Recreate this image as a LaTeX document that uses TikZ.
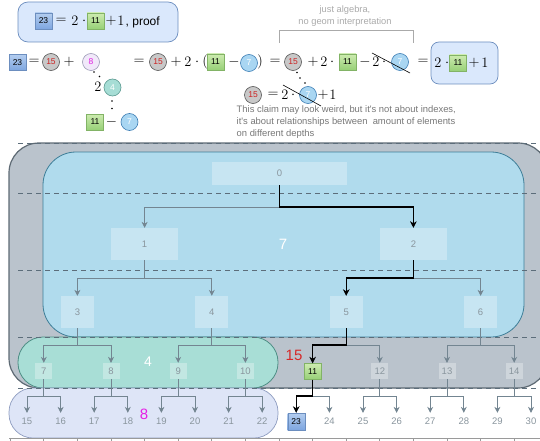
\documentclass[tikz,border=0pt]{standalone}
\usepackage{fontspec}
\newfontfamily\hv{Liberation Sans}
\usetikzlibrary{arrows.meta}
\definecolor{grayfill}{HTML}{BAC3CC}
\definecolor{grayedge}{HTML}{5E6A74}
\definecolor{bluefill}{HTML}{B0DBED}
\definecolor{blueedge}{HTML}{3E7E98}
\definecolor{tealfill}{HTML}{A8DED6}
\definecolor{tealedge}{HTML}{4E8E85}
\definecolor{lavfill}{HTML}{DEE5F7}
\definecolor{lavedge}{HTML}{8E9CC0}
\definecolor{treegray}{HTML}{738591}
\definecolor{labgray}{HTML}{8A969E}
\definecolor{dashgray}{HTML}{5C6D7A}
\definecolor{resfill}{HTML}{DAE8FC}
\definecolor{resedge}{HTML}{6C8EBF}
\definecolor{bbtop}{HTML}{B3CDEF}
\definecolor{bbbot}{HTML}{7EA6E0}
\definecolor{gbtop}{HTML}{CDEBB0}
\definecolor{gbbot}{HTML}{97D077}
\definecolor{gbedge}{HTML}{82B366}
\definecolor{cfifill}{HTML}{C8C8C8}
\definecolor{cfiedge}{HTML}{555555}
\definecolor{cfitext}{HTML}{CC2222}
\definecolor{ceifill}{HTML}{F1E8FA}
\definecolor{ceiedge}{HTML}{9A9AB4}
\definecolor{ceitext}{HTML}{E020E0}
\definecolor{cfofill}{HTML}{A6DDD5}
\definecolor{cfoedge}{HTML}{5A9990}
\definecolor{csefill}{HTML}{A9D6F2}
\definecolor{cseedge}{HTML}{3C7DB4}
\definecolor{notegray}{HTML}{777777}
\definecolor{bracegray}{HTML}{AAAAAA}
\definecolor{redlab}{HTML}{D62828}
\definecolor{maglab}{HTML}{E61EE6}
\definecolor{leafline}{HTML}{9A9A9A}
\begin{document}
\begin{tikzpicture}[x=1pt,y=-1pt,
  eq/.style={inner sep=0pt, font=\fontsize{14}{14}\selectfont},
  eqbig/.style={inner sep=0pt, font=\fontsize{15.5}{15.5}\selectfont},
  bbox/.style={draw=resedge, top color=bbtop, bottom color=bbbot, minimum width=17pt, minimum height=16pt, inner sep=0pt, font=\hv\fontsize{8.5}{8.5}\selectfont},
  gbox/.style={draw=gbedge, top color=gbtop, bottom color=gbbot, minimum width=17pt, minimum height=16pt, inner sep=0pt, font=\hv\fontsize{8.5}{8.5}\selectfont},
  circ/.style={circle, minimum size=17pt, inner sep=0pt, line width=0.6pt, font=\hv\fontsize{8.5}{8.5}\selectfont},
  cfifteen/.style={circ, draw=cfiedge, fill=cfifill, text=cfitext},
  ceight/.style={circ, draw=ceiedge, fill=ceifill, text=ceitext},
  cfour/.style={circ, draw=cfoedge, fill=cfofill, text=white},
  cseven/.style={circ, draw=cseedge, fill=csefill, text=white},
  tnode/.style={fill=white, fill opacity=0.3, text opacity=1, text=labgray, inner sep=0pt, font=\hv\fontsize{9.5}{9.5}\selectfont},
  tleaf/.style={text=labgray, inner sep=0pt, minimum height=16pt, font=\hv\fontsize{9.5}{9.5}\selectfont},
  treearrow/.style={draw=treegray, line width=0.7pt, -{Stealth[length=6pt,width=6pt,inset=2pt]}},
  hotarrow/.style={draw=black, line width=1.1pt, -{Stealth[length=6.5pt,width=6.5pt,inset=2pt]}},
  lvline/.style={draw=dashgray, dash pattern=on 5pt off 4pt, line width=0.8pt},
  dotmark/.style={fill=black, circle, inner sep=0pt, minimum size=1.8pt},
  biglab/.style={inner sep=0pt, font=\hv\fontsize{15}{15}\selectfont},
  notetxt/.style={inner sep=0pt, text=bracegray, font=\hv\fontsize{9.3}{9.3}\selectfont},
]
\useasboundingbox (0,0) rectangle (540,441);

% ---------- title box ----------
\node[draw=resedge, fill=resfill, rounded corners=10pt, minimum width=160pt, minimum height=40pt, line width=0.7pt] (titlebox) at (98,22) {};
\node[bbox] (tb23) at (43.5,21) {23};
\node[eqbig] (te1) at (61,21) {$=$};
\node[eqbig] (te2) at (75,21) {$2$};
\node[eqbig] (te3) at (84,21) {$\cdot$};
\node[gbox] (tg11) at (95.5,21) {11};
\node[eqbig] (te4) at (111,21) {$+$};
\node[eqbig] (te5) at (121,21) {$1$};
\node[anchor=west, inner sep=0pt, font=\hv\fontsize{12}{12}\selectfont] (te6) at (125.5,22) {, proof};

% ---------- note above ----------
\node[notetxt] (na) at (345,10) {just algebra,};
\node[notetxt] (nb) at (345,22.5) {no geom interpretation};
\draw[bracegray, line width=0.8pt] (279,43) -- (279,30) -- (413,30) -- (413,43);

% ---------- row 1 ----------
\node[bbox] (r23) at (17.5,62.5) {23};
\node[eq] (r1) at (34,62) {$=$};
\node[cfifteen] (c15a) at (51,62) {15};
\node[eq] (r2) at (69,62) {$+$};
\node[ceight] (c8) at (91,62) {8};
\node[eq] (r3) at (139,62) {$=$};
\node[cfifteen] (c15b) at (158,62) {15};
\node[eq] (r4) at (176,62) {$+$};
\node[eq] (r5) at (188,62) {$2$};
\node[eq] (r6) at (197,62) {$\cdot$};
\node[eq] (r7) at (205,62) {$($};
\node[gbox] (g11b) at (215.5,62) {11};
\node[eq] (r8) at (234,62) {$-$};
\node[cseven] (c7a) at (249,63) {7};
\node[eq] (r9) at (260,62) {$)$};
\node[eq] (r10) at (275,62) {$=$};
\node[cfifteen] (c15c) at (293,62) {15};
\node[eq] (r11) at (313,62) {$+$};
\node[eq] (r12) at (324,62) {$2$};
\node[eq] (r13) at (332,62) {$\cdot$};
\node[gbox] (g11c) at (347.5,62) {11};
\node[eq] (r14) at (365,62) {$-$};
\node[eq] (r15) at (376,62) {$2$};
\node[eq] (r16) at (384,62) {$\cdot$};
\node[cseven] (c7b) at (400,62) {7};
\draw[line width=0.6pt] (372,53) -- (410,73);
\node[eq] (r17) at (423,62) {$=$};
\node[draw=resedge, fill=resfill, rounded corners=8pt, minimum width=67pt, minimum height=42pt, line width=0.7pt] (resbox) at (464.5,63) {};
\node[eqbig] (s1) at (438,63) {$2$};
\node[eqbig] (s2) at (447,63) {$\cdot$};
\node[gbox] (g11d) at (458,63) {11};
\node[eqbig] (s3) at (474,63) {$+$};
\node[eqbig] (s4) at (485,63) {$1$};

% ---------- row 2 ----------
\node[eq] (q1) at (98,87) {$2$};
\node[cfour] (c4) at (112.5,87.5) {4};
\node[dotmark] (d1) at (94,72) {};
\node[dotmark] (d2) at (99.5,76.5) {};
\node[dotmark] (d3) at (112,101) {};
\node[dotmark] (d4) at (112,108.5) {};

% ---------- row 3 ----------
\node[cfifteen] (c15d) at (253,95) {15};
\node[eq] (p1) at (273,95) {$=$};
\node[eq] (p2) at (285,95) {$2$};
\node[eq] (p3) at (293,95) {$\cdot$};
\node[cseven] (c7c) at (308,95) {7};
\draw[line width=0.6pt] (283,85) -- (321,106);
\node[eq] (p4) at (323,95) {$+$};
\node[eq] (p5) at (333,95) {$1$};
\node[dotmark] (d5) at (297,72.5) {};
\node[dotmark] (d6) at (300,78) {};
\node[dotmark] (d7) at (305,83) {};

% ---------- row 4 ----------
\node[gbox] (g11e) at (95,122) {11};
\node[eq] (u1) at (111.5,122) {$-$};
\node[cseven] (c7d) at (129.5,122) {7};

% ---------- claim text ----------
\node[anchor=north west, inner sep=0pt, text=notegray, align=left, font=\hv\fontsize{9.4}{12.2}\selectfont] (claim) at (236.5,105) {This claim may look weird, but it's not about indexes,\\it's about relationships between\ \ amount of elements\\on different depths};

% ---------- regions ----------
\draw[fill=grayfill, draw=grayedge, line width=1.2pt, rounded corners=30pt] (9,143) rectangle (548,388);
\draw[fill=bluefill, draw=blueedge, line width=0.8pt, rounded corners=33pt] (43,152) rectangle (524,337);
\draw[fill=tealfill, draw=tealedge, line width=0.8pt, rounded corners=25pt] (18,337) rectangle (278,388);
\draw[fill=lavfill, draw=lavedge, line width=0.7pt, rounded corners=24pt] (9,388) rectangle (278,438);

\foreach \yy in {143,193,270,337,388} { \draw[lvline] (18,\yy) -- (540,\yy); }

% bottom row stubs
\draw[leafline, line width=0.6pt] (9,438.5) -- (540,438.5);
\foreach \k in {0,...,15} { \draw[leafline, line width=0.6pt] ({10+33.6*\k},438.5) -- ({10+33.6*\k},445); }

% ---------- tree nodes ----------
\node[tnode, minimum width=135pt, minimum height=23pt] (n0) at (279.5,173.5) {0};
\node[tnode, minimum width=67pt, minimum height=32pt] (n1) at (144.6,244) {1};
\node[tnode, minimum width=67pt, minimum height=32pt] (n2) at (413.4,244) {2};
\foreach \k/\xx in {3/77.4,4/211.8,5/346.2,6/480.6} {
  \node[tnode, minimum width=33pt, minimum height=32pt] (n\k) at (\xx,312) {\k};
}
\foreach \k in {7,8,9,10,12,13,14} {
  \pgfmathsetmacro\xx{43.8+67.2*(\k-7)}
  \node[tnode, minimum width=17pt, minimum height=16pt] (n\k) at (\xx,371) {\k};
}
\node[gbox] (n11) at (312.6,371.5) {11};
\foreach \k in {15,...,22,24,25,26,27,28,29,30} {
  \pgfmathsetmacro\xx{27+33.6*(\k-15)}
  \node[tleaf] (n\k) at (\xx,421) {\k};
}
\node[bbox, minimum height=17pt] (n23) at (296.2,421.5) {23};

% branch levels
\coordinate (b0) at (0,207);
\coordinate (b1) at (0,278);
\coordinate (b2) at (0,345);
\coordinate (b3) at (0,396);

\foreach \p/\lv in {0/0,1/1,2/1,3/2,4/2,5/2,6/2,7/3,8/3,9/3,10/3,11/3,12/3,13/3,14/3} {
  \pgfmathtruncatemacro\ca{2*\p+1}
  \pgfmathtruncatemacro\cb{2*\p+2}
  \draw[treearrow] (n\p.south) -- (n\p.south |- b\lv) -| (n\ca.north);
  \draw[treearrow] (n\p.south) -- (n\p.south |- b\lv) -| (n\cb.north);
}
\draw[hotarrow] (n0.south) -- (n0.south |- b0) -| (n2.north);
\draw[hotarrow] (n2.south) -- (n2.south |- b1) -| (n5.north);
\draw[hotarrow] (n5.south) -- (n5.south |- b2) -| (n11.north);
\draw[hotarrow] (n11.south) -- (n11.south |- b3) -| (n23.north);

% ---------- region labels ----------
\node[biglab, text=white] (l7) at (283,244) {7};
\node[biglab, text=redlab] (l15) at (294,355) {15};
\node[biglab, text=white, font=\hv\fontsize{14}{14}\selectfont] (l4) at (148,362) {4};
\node[biglab, text=maglab] (l8) at (144,414) {8};
\end{tikzpicture}
\end{document}
